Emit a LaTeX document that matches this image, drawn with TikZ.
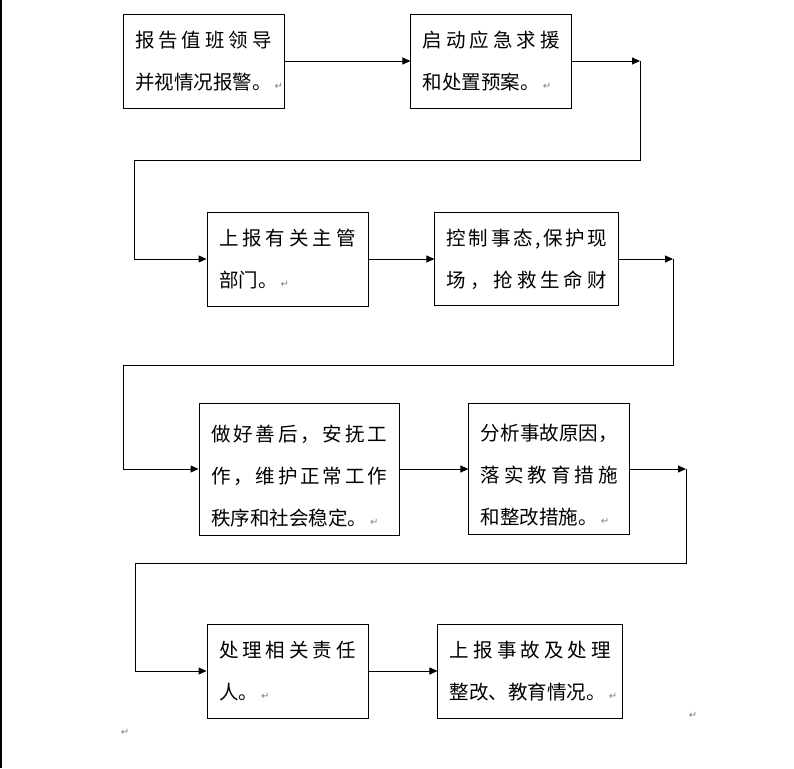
\documentclass[tikz,border=0pt]{standalone}
\usepackage{fontspec}
\usepackage{tikz}
\usetikzlibrary{positioning,arrows.meta}

\newfontfamily\cjk{Noto Sans CJK SC}
\newfontfamily\symfont{DejaVu Sans}
\newcommand\parmark{\rlap{\hspace{3pt}\textcolor{gray}{\symfont\fontsize{10}{10}\selectfont ↵}}}
\ExplSyntaxOn
\NewDocumentCommand\spreadline{m}{\makebox[\linewidth][s]{\tl_map_inline:nn{#1}{##1\hfil}\unskip}}
\ExplSyntaxOff

\begin{document}
\begin{tikzpicture}[x=1pt, y=-1pt, node distance=66pt,
  stepbox/.style={draw, line width=0.9pt, inner xsep=12pt, inner ysep=0pt, align=left,
    font=\cjk\fontsize{19.5}{42}\selectfont},
  parsign/.style={text=gray, font=\symfont\fontsize{10}{10}\selectfont},
  link/.style={line width=0.9pt},
  arrow/.style={link, -{Triangle[length=8pt,width=7pt]}}]
      \useasboundingbox (0,0) rectangle (794,768);
      \draw[line width=1.5pt] (1,0) -- (1,768);
      % first row
      \node[stepbox, text width=137pt, minimum height=94pt] (report) at (203.5,61)
        {\spreadline{报告值班领导}\\并视情况报警。\parmark};
      \node[stepbox, text width=137pt, minimum height=94pt, right=126pt of report] (plan)
        {\spreadline{启动应急求援}\\和处置预案。\parmark};
      % second row
      \node[stepbox, text width=137pt, minimum height=94pt] (dept) at (287.5,259)
        {\spreadline{上报有关主管}\\部门。\parmark};
      \node[stepbox, text width=160pt, minimum height=93pt, right=66pt of dept] (control)
        {\spreadline{控制事态,保护现}\\\spreadline{场，抢救生命财}};
      % third row
      \node[stepbox, text width=176pt, minimum height=132pt] (after) at (299,469)
        {\rule{0pt}{31pt}\spreadline{做好善后，安抚工}\\\spreadline{作，维护正常工作}\\秩序和社会稳定。\parmark};
      \node[stepbox, text width=137pt, minimum height=131pt, right=69pt of after] (cause)
        {\rule{0pt}{29pt}\spreadline{分析事故原因，}\\\spreadline{落实教育措施}\\和整改措施。\parmark};
      % fourth row
      \node[stepbox, text width=137pt, minimum height=94pt] (punish) at (287.5,671)
        {\spreadline{处理相关责任}\\人。\parmark};
      \node[stepbox, text width=161pt, minimum height=94pt, right=69pt of punish] (final)
        {\spreadline{上报事故及处理}\\整改、教育情况。\parmark};
      \node[parsign] (pm1) at (125,732) {↵};
      \node[parsign] (pm2) at (693,715) {↵};
      % turning points
      \coordinate (r1) at (640,61);
      \coordinate (r1b) at (640,160);
      \coordinate (l1) at (134,160);
      \coordinate (r2) at (673,259);
      \coordinate (r2b) at (673,365);
      \coordinate (l2) at (123,365);
      \coordinate (r3) at (686,469);
      \coordinate (r3b) at (686,563);
      \coordinate (l3) at (135,563);
      \draw[arrow] (report) -- (plan);
      \draw[arrow] (plan) -- (r1);
      \draw[arrow] (r1) -- (r1b) -- (l1) |- (dept);
      \draw[arrow] (dept) -- (control);
      \draw[arrow] (control) -- (r2);
      \draw[arrow] (r2) -- (r2b) -- (l2) |- (after);
      \draw[arrow] (after) -- (cause);
      \draw[arrow] (cause) -- (r3);
      \draw[arrow] (r3) -- (r3b) -- (l3) |- (punish);
      \draw[arrow] (punish) -- (final);
\end{tikzpicture}
\end{document}
